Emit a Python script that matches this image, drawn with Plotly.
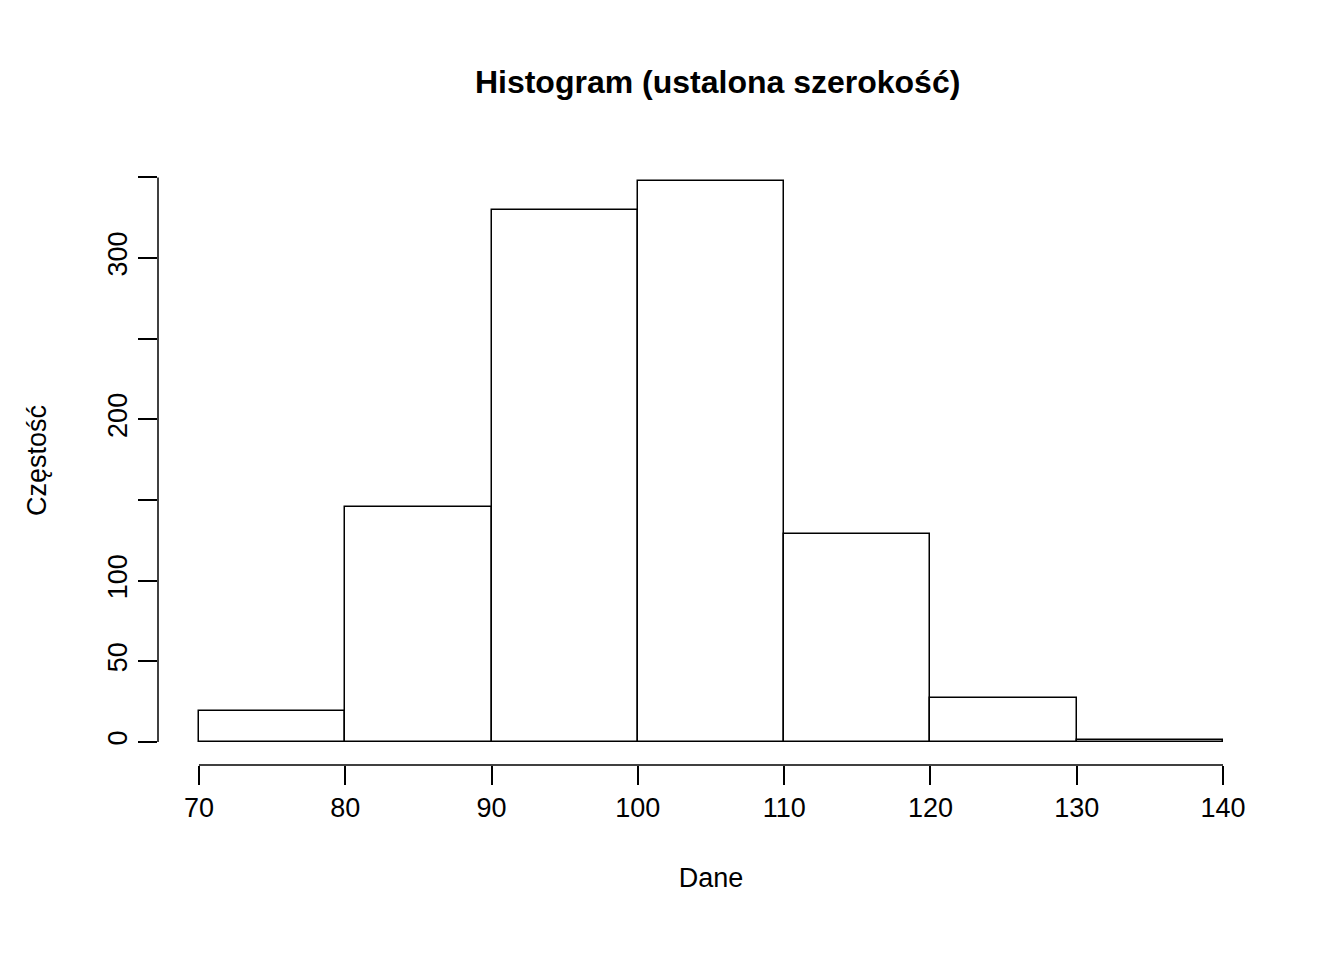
import plotly.graph_objects as go

bin_left = [70, 80, 90, 100, 110, 120, 130]
counts = [19, 146, 330, 348, 129, 27, 1]
x_ticks = [70, 80, 90, 100, 110, 120, 130, 140]
y_ticks = [0, 50, 100, 150, 200, 250, 300, 350]
y_labels = ["0", "50", "100", "", "200", "", "300", ""]

fig = go.Figure(go.Bar(
    x=bin_left, y=counts, width=10, offset=0,
    marker=dict(color="white", line=dict(color="black", width=1.5)),
))

font = dict(family="Liberation Sans, Arial", size=27, color="black")
fig.update_layout(
    width=1344, height=960, plot_bgcolor="white", paper_bgcolor="white",
    margin=dict(l=150, r=88, t=148, b=203), showlegend=False, font=font,
    title=dict(text="<b>Histogram (ustalona szerokość)</b>", x=0.528, y=0.935,
               xanchor="center", font=dict(size=32)),
    bargap=0,
)
fig.update_xaxes(range=[67.2, 142.8], tickvals=x_ticks, ticks="outside", ticklen=19,
                 tickwidth=1.5, tickcolor="black", showgrid=False, zeroline=False,
                 tickfont=dict(size=27),
                 title=dict(text="Dane", standoff=45, font=dict(size=27)))
fig.update_yaxes(range=[-14.26, 363.3], tickvals=y_ticks, ticktext=y_labels,
                 ticks="outside", ticklen=19, tickwidth=1.5, tickcolor="black",
                 tickangle=-90, showgrid=False, zeroline=False,
                 tickfont=dict(size=27),
                 title=dict(text="Częstość", standoff=48, font=dict(size=27)))
fig.add_shape(type="line", xref="x", yref="paper", x0=70, x1=140, y0=0, y1=0,
              line=dict(color="black", width=1.5))
fig.add_shape(type="line", xref="paper", yref="y", x0=0, x1=0, y0=0, y1=350,
              line=dict(color="black", width=1.5))
fig.write_html("out.html")
